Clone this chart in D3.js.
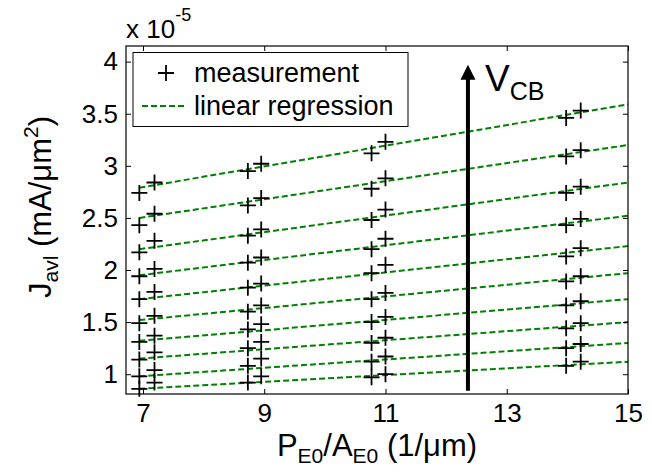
<!DOCTYPE html>
<html><head><meta charset="utf-8">
<script src="https://cdn.jsdelivr.net/npm/d3@7"></script>
<style>body{margin:0;background:#fff}svg{display:block}text{font-family:"Liberation Sans",Arial,sans-serif;fill:#000}</style>
</head><body><svg id="c" width="652" height="472"></svg>
<script>
const xTicks = [7, 9, 11, 13, 15];
const yTicks = [1, 1.5, 2, 2.5, 3, 3.5, 4];
const markerX = [6.94, 7.19, 8.73, 8.95, 10.77, 11.0, 13.98, 14.22];
const s1 = [2.74, 2.84, 2.95, 3.02, 3.12, 3.23, 3.46, 3.53];
const s2 = [2.43, 2.54, 2.62, 2.69, 2.78, 2.88, 3.09, 3.15];
const s3 = [2.17, 2.28, 2.33, 2.39, 2.48, 2.58, 2.74, 2.80];
const s4 = [1.94, 2.01, 2.07, 2.12, 2.20, 2.30, 2.43, 2.49];
const s5 = [1.72, 1.79, 1.83, 1.87, 1.97, 2.05, 2.13, 2.21];
const s6 = [1.49, 1.56, 1.60, 1.66, 1.72, 1.78, 1.89, 1.94];
const s7 = [1.31, 1.37, 1.43, 1.48, 1.50, 1.55, 1.66, 1.70];
const s8 = [1.14, 1.21, 1.25, 1.31, 1.30, 1.35, 1.44, 1.49];
const s9 = [0.98, 1.04, 1.08, 1.15, 1.12, 1.17, 1.25, 1.29];
const s10 = [0.86, 0.92, 0.92, 0.98, 0.97, 1.00, 1.08, 1.12];
const seriesList = [s1, s2, s3, s4, s5, s6, s7, s8, s9, s10];
const fitX = [6.94, 15];
const fitStart = [2.79, 2.50, 2.20, 1.95, 1.72, 1.52, 1.32, 1.15, 0.98, 0.86];
const fitEnd = [3.59, 3.20, 2.84, 2.52, 2.23, 1.97, 1.72, 1.50, 1.30, 1.12];
const arrowX = 12.36, arrowY = [0.84, 3.97];

const svg = d3.select('#c');
const L = 126, R = 628, T = 46, B = 394;
const x = d3.scaleLinear().domain([6.72, 15]).range([L, R]);
const y = d3.scaleLinear().domain([0.81, 4.15]).range([B, T]);

// fit lines
const g = svg.append('g');
seriesList.forEach((s, i) => {
  g.append('line')
    .attr('x1', x(fitX[0])).attr('y1', y(fitStart[i]))
    .attr('x2', x(fitX[1])).attr('y2', y(fitEnd[i]))
    .attr('stroke', '#008000').attr('stroke-width', 2).attr('stroke-dasharray', '6,3');
});
// markers
seriesList.forEach(s => {
  s.forEach((v, j) => {
    const cx = x(markerX[j]), cy = y(v);
    g.append('path').attr('d', `M${cx-8},${cy}H${cx+8}M${cx},${cy-8}V${cy+8}`)
      .attr('stroke', '#000').attr('stroke-width', 1.8).attr('fill', 'none');
  });
});

// arrow
svg.append('line').attr('x1', x(arrowX)).attr('x2', x(arrowX))
  .attr('y1', y(arrowY[0])).attr('y2', y(arrowY[1]) + 12)
  .attr('stroke', '#000').attr('stroke-width', 4);
const ax = x(arrowX), ay = y(arrowY[1]);
svg.append('path').attr('d', `M${ax},${ay}L${ax-7.5},${ay+15}L${ax+7.5},${ay+15}Z`).attr('fill', '#000');
const vt = svg.append('text').attr('x', ax + 17).attr('y', 91).attr('font-size', 37);
vt.append('tspan').text('V');
vt.append('tspan').attr('font-size', 25).attr('dy', 9).text('CB');

// axes box
const axG = svg.append('g');
axG.append('g').attr('transform', `translate(0,${B})`)
  .call(d3.axisBottom(x).tickValues(xTicks).tickSize(-5).tickPadding(10).tickFormat(d3.format('d')));
axG.append('g').attr('transform', `translate(0,${T})`)
  .call(d3.axisTop(x).tickValues(xTicks).tickSize(-5).tickFormat(''));
axG.append('g').attr('transform', `translate(${L},0)`)
  .call(d3.axisLeft(y).tickValues(yTicks).tickSize(-5).tickPadding(8).tickFormat(d => String(d)));
axG.append('g').attr('transform', `translate(${R},0)`)
  .call(d3.axisRight(y).tickValues(yTicks).tickSize(-5).tickFormat(''));
axG.selectAll('.domain').remove();
axG.selectAll('.tick line').attr('stroke', '#000').attr('stroke-width', 1);
axG.selectAll('.tick text').attr('font-size', 26).attr('font-family', '"Liberation Sans",Arial,sans-serif').attr('fill', '#000');
svg.append('rect').attr('x', L).attr('y', T).attr('width', R - L).attr('height', B - T)
  .attr('fill', 'none').attr('stroke', '#000').attr('stroke-width', 1.2);

// exponent
const ex = svg.append('text').attr('x', 126).attr('y', 38).attr('font-size', 26);
ex.append('tspan').text('x 10');
ex.append('tspan').attr('font-size', 18).attr('dy', -17).text('-5');

// legend
svg.append('rect').attr('x', 133).attr('y', 52.5).attr('width', 275).attr('height', 74)
  .attr('fill', '#fff').attr('stroke', '#000').attr('stroke-width', 1);
svg.append('path').attr('d', 'M158,73H174M166,65V81').attr('stroke', '#000').attr('stroke-width', 1.8);
svg.append('line').attr('x1', 142).attr('x2', 187).attr('y1', 106).attr('y2', 106)
  .attr('stroke', '#008000').attr('stroke-width', 2).attr('stroke-dasharray', '6,3');
svg.append('text').attr('x', 194).attr('y', 82).attr('font-size', 27).text('measurement');
svg.append('text').attr('x', 194).attr('y', 115).attr('font-size', 27).text('linear regression');

// x label
const xl = svg.append('text').attr('x', (L + R) / 2).attr('y', 456).attr('text-anchor', 'middle').attr('font-size', 31);
xl.append('tspan').text('P');
xl.append('tspan').attr('font-size', 21).attr('dy', 7).text('E0');
xl.append('tspan').attr('dy', -7).text('/A');
xl.append('tspan').attr('font-size', 21).attr('dy', 7).text('E0');
xl.append('tspan').attr('dy', -7).text(' (1/μm)');

// y label
const yl = svg.append('text').attr('transform', 'translate(51,207) rotate(-90)').attr('text-anchor', 'middle').attr('font-size', 31);
yl.append('tspan').text('J');
yl.append('tspan').attr('font-size', 21).attr('dy', 7).text('avl');
yl.append('tspan').attr('dy', -7).text(' (mA/μm');
yl.append('tspan').attr('font-size', 21).attr('dy', -13).text('2');
yl.append('tspan').attr('dy', 13).text(')');
</script></body></html>
